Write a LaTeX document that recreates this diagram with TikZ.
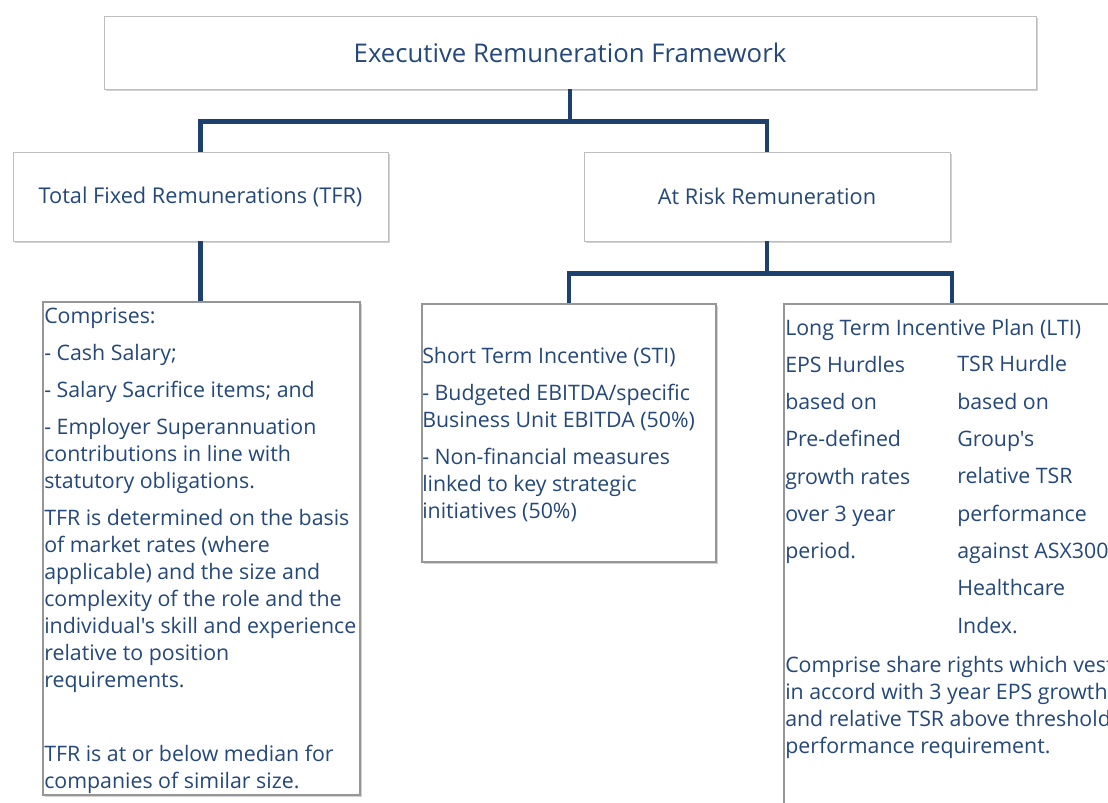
\documentclass[tikz,border=0pt]{standalone}
\usepackage{fontspec}
\setmainfont{Open Sans}[Ligatures=TeXOff]
\usetikzlibrary{shadows}
\definecolor{remblue}{RGB}{36,72,122}
\definecolor{linkblue}{RGB}{30,64,110}
\definecolor{boxgray}{RGB}{190,190,190}
\definecolor{framegray}{RGB}{150,150,150}
\newcommand{\bodyfont}{\fontsize{16}{20.25}\selectfont}
\tikzset{
  headbox/.style={draw=boxgray, fill=white, line width=0.7pt, text=remblue,
    drop shadow={shadow xshift=1.2pt, shadow yshift=-1.8pt, opacity=0.35}},
  detailbox/.style={draw=framegray, fill=white, line width=0.8pt,
    drop shadow={shadow xshift=1.2pt, shadow yshift=-1.8pt, opacity=0.35}},
  link/.style={draw=linkblue, line width=3.6pt},
  bodytext/.style={anchor=base west, align=left, inner sep=0pt, text=remblue, font=\bodyfont}
}
\begin{document}
\begin{tikzpicture}[x=0.75pt, y=-0.75pt]
\useasboundingbox (0,0) rectangle (1108,803);
\clip (0,0) rectangle (1108,803);
\fill[white] (0,0) rectangle (1108,803);

% top level
\node[headbox, minimum width=699pt, minimum height=54.75pt,
  font=\fontsize{19.3}{23}\selectfont] (title) at (570,52.5) {Executive Remuneration Framework};

% second level
\node[headbox, minimum width=281.25pt, minimum height=66.75pt, font=\fontsize{16.3}{20}\selectfont] (tfr) at (200.5,196.5) {Total Fixed Remunerations (TFR)};
\node[headbox, minimum width=274.5pt, minimum height=66.75pt, font=\fontsize{16.3}{20}\selectfont] (atrisk) at (767,196.5) {At Risk Remuneration};

% detail boxes
\node[detailbox, minimum width=237.75pt, minimum height=369.75pt] (tfrdetail) at (201.5,548.5) {};
\node[detailbox, minimum width=220.5pt, minimum height=193.5pt] (sti) at (569,433) {};
\node[detailbox, minimum width=252pt, minimum height=394.5pt] (lti) at (952,567) {};

% connectors
\draw[link] (title.south) -- ++(0,32) -| (tfr.north);
\draw[link] (title.south) -- ++(0,32) -| (atrisk.north);
\draw[link] (tfr.south) -- (tfr.south |- tfrdetail.north);
\draw[link] (atrisk.south) -- ++(0,32) -| (sti.north);
\draw[link] (atrisk.south) -- ++(0,32) -| (lti.north);

% texts (placed at the baseline of their last line)
\node[bodytext] (tfrtext) at (44,788) {Comprises:\\[7.5pt]
- Cash Salary;\\[7.5pt]
- Salary Sacrifice items; and\\[7.5pt]
- Employer Superannuation\\
contributions in line with\\
statutory obligations.\\[7.5pt]
TFR is determined on the basis\\
of market rates (where\\
applicable) and the size and\\
complexity of the role and the\\
individual's skill and experience\\
relative to position\\
requirements.\\[35.25pt]
TFR is at or below median for\\
companies of similar size.};

\node[bodytext] (stitext) at (422,518) {Short Term Incentive (STI)\\[7.5pt]
- Budgeted EBITDA/specific\\
Business Unit EBITDA (50\%)\\[7.5pt]
- Non-financial measures\\
linked to key strategic\\
initiatives (50\%)};

\node[bodytext] (ltihead) at (785,335) {Long Term Incentive Plan (LTI)};
\node[bodytext, font=\fontsize{16}{28}\selectfont] (epscol) at (785,558.7) {EPS Hurdles\\
based on\\
Pre-defined\\
growth rates\\
over 3 year\\
period.};
\node[bodytext, font=\fontsize{16}{28}\selectfont] (tsrcol) at (957,633.3) {TSR Hurdle\\
based on\\
Group's\\
relative TSR\\
performance\\
against ASX300\\
Healthcare\\
Index.};
\node[bodytext] (ltitext) at (785,753) {Comprise share rights which vest\\
in accord with 3 year EPS growth\\
and relative TSR above threshold\\
performance requirement.};
\end{tikzpicture}
\end{document}
